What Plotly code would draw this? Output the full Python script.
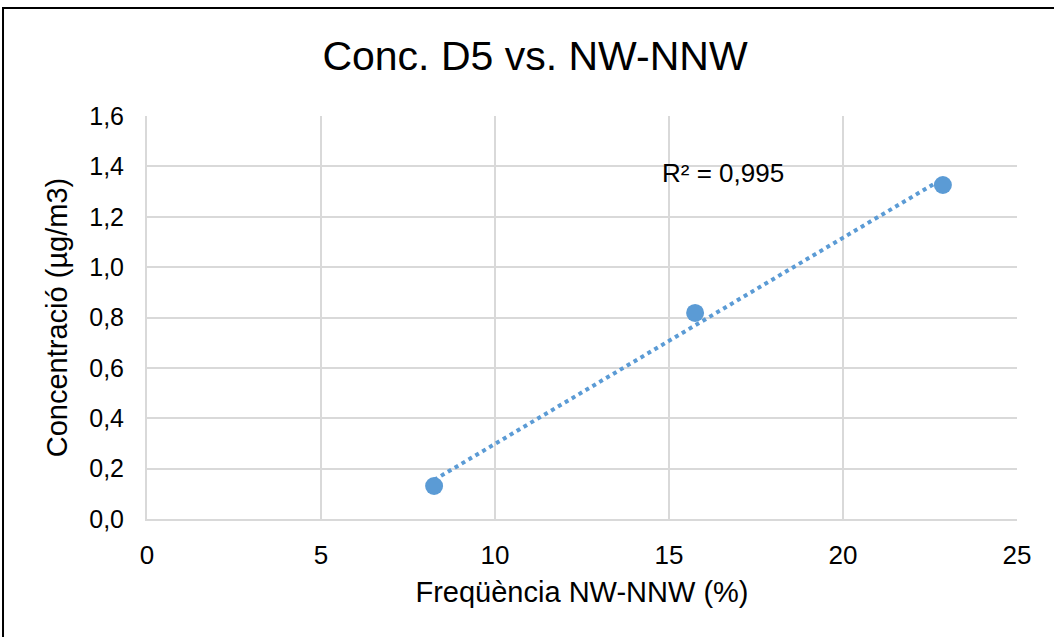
import numpy as np
import plotly.graph_objects as go

# Data
freq_nw_nnw = [8.25, 15.75, 22.87]        # Freqüència NW-NNW (%)
conc_d5 = [0.131, 0.818, 1.326]            # Concentració (µg/m3)
x_ticks = [0, 5, 10, 15, 20, 25]
y_ticks = [0.0, 0.2, 0.4, 0.6, 0.8, 1.0, 1.2, 1.4, 1.6]
r2_label = "R² = 0,995"

# Linear trendline (least squares) from the data
xs = np.array(freq_nw_nnw)
ys = np.array(conc_d5)
slope, intercept = np.polyfit(xs, ys, 1)
trend_x = [xs.min(), xs.max()]
trend_y = [slope * v + intercept for v in trend_x]

blue = "#5B9BD5"
grid = "#D9D9D9"
font_family = "Liberation Sans, Arial, sans-serif"

fig = go.Figure()
fig.add_trace(go.Scatter(
    x=trend_x, y=trend_y, mode="lines",
    line=dict(color=blue, width=4, dash="4px,4px"),
    hoverinfo="skip", showlegend=False,
))
fig.add_trace(go.Scatter(
    x=freq_nw_nnw, y=conc_d5, mode="markers",
    marker=dict(color=blue, size=18),
    showlegend=False,
))

fig.add_annotation(
    x=14.75, y=1.375, xref="x", yref="y", xanchor="left", yanchor="middle",
    text=r2_label, showarrow=False,
    font=dict(family=font_family, size=26, color="#000000"),
)

# outer frame
fig.add_shape(
    type="rect", xref="paper", yref="paper",
    x0=-0.1655, x1=1.2, y0=-0.5, y1=1.268,
    line=dict(color="#000000", width=2), fillcolor="rgba(0,0,0,0)", layer="above",
)

fig.update_layout(
    width=1054, height=637,
    margin=dict(l=147, r=37, t=116, b=118, autoexpand=False),
    paper_bgcolor="white", plot_bgcolor="white",
    separators=", ",
    font=dict(family=font_family, color="#000000"),
    title=dict(
        text="Conc. D5 vs. NW-NNW",
        x=535 / 1054, xref="container", xanchor="center",
        y=1 - 56 / 637, yref="container", yanchor="middle",
        font=dict(family=font_family, size=41, color="#000000"),
    ),
    xaxis=dict(
        range=[0, 25], tickvals=x_ticks, tickformat="d",
        showgrid=True, gridcolor=grid, gridwidth=2,
        showline=True, linecolor=grid, linewidth=2, mirror=False,
        zeroline=False, ticks="", ticklabelstandoff=12,
        tickfont=dict(family=font_family, size=26, color="#000000"),
        title=dict(text="Freqüència NW-NNW (%)", standoff=12,
                   font=dict(family=font_family, size=29, color="#000000")),
        automargin=False,
    ),
    yaxis=dict(
        range=[0, 1.6], tickvals=y_ticks, tickformat=".1f",
        showgrid=True, gridcolor=grid, gridwidth=2,
        showline=True, linecolor=grid, linewidth=2,
        zeroline=False, ticks="", ticklabelstandoff=16,
        tickfont=dict(family=font_family, size=25, color="#000000"),
        title=dict(text="Concentració (µg/m3)", standoff=13,
                   font=dict(family=font_family, size=29, color="#000000")),
        automargin=False,
    ),
)

fig.write_html("out.html", config={"displayModeBar": False},
               post_script="document.body.style.margin='0';")
